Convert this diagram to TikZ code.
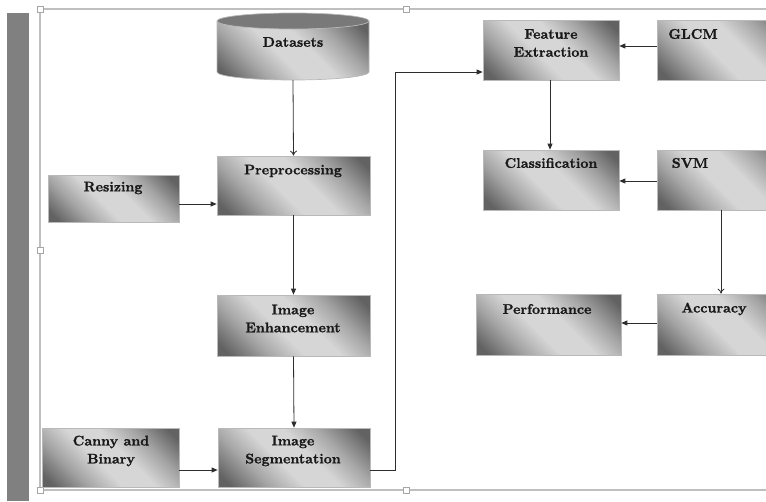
\documentclass[tikz,border=0pt]{standalone}
\usepackage{fontspec}
\newfontfamily\lblfont{lmroman10-bold.otf}[FakeBold=1.2]
\usetikzlibrary{arrows.meta,shadows}
\definecolor{dk}{RGB}{98,98,98}
\definecolor{md}{RGB}{165,165,165}
\definecolor{lt}{RGB}{214,214,214}
\definecolor{ln}{RGB}{45,45,45}
\pgfdeclareverticalshading{boxshade}{100bp}{color(0bp)=(dk); color(19bp)=(dk); color(32bp)=(md); color(44bp)=(lt); color(56bp)=(lt); color(68bp)=(md); color(81bp)=(dk); color(100bp)=(dk)}
\begin{document}
\begin{tikzpicture}[x=1pt,y=-1pt,
  box/.style={draw=gray!55, line width=0.7pt, shading=boxshade, shading angle=-45, inner sep=0pt,
    drop shadow={shadow xshift=1.2pt, shadow yshift=-1.2pt, opacity=0.25}},
  lbl/.style={font=\fontsize{14}{18}\lblfont, align=center, inner sep=0pt, text=black!90},
  arr/.style={draw=ln, line width=0.8pt, -{Triangle[length=6pt,width=5pt]}},
  oarr/.style={draw=ln, line width=0.8pt, -{To[length=5pt,width=7pt]}},
  frame/.style={draw=gray!50, line width=1.4pt},
  handle/.style={draw=gray!70, fill=white, line width=0.6pt, minimum size=6pt, inner sep=0pt}]
\useasboundingbox (0,0) rectangle (766,501);
\clip (0,0) rectangle (766,501);
\fill[gray] (7,13) rectangle (29,501);
% frame
\draw[frame] (766,9) -- (40,9) -- (40,490) -- (766,490);
\node[handle] (h1) at (40,9) {};
\node[handle] (h2) at (406,9) {};
\node[handle] (h3) at (40,490) {};
\node[handle] (h4) at (406,490) {};
\node[handle] (h5) at (40,250) {};
% datasets cylinder
\shade[shading=boxshade, shading angle=-45, draw=gray!55, line width=0.7pt]
  (217,21) -- (217,72) arc[start angle=180, end angle=360, x radius=76, y radius=-8] -- (369,21) -- cycle;
\fill[fill=gray!95!black, draw=gray!55, line width=0.7pt] (293,21) ellipse[x radius=76, y radius=8];
\node[inner sep=0pt, minimum width=152pt, minimum height=67pt] (ds) at (293,46.5) {};
\node[lbl] (dsT) at (293,42) {Datasets};
% boxes
\node[box, minimum width=153pt, minimum height=59pt] (pre) at (293.5,185.5) {};
\node[box, minimum width=131pt, minimum height=47pt] (res) at (113.5,198.5) {};
\node[box, minimum width=153pt, minimum height=61pt] (enh) at (293.5,325.5) {};
\node[box, minimum width=152pt, minimum height=59pt] (seg) at (294,457.5) {};
\node[box, minimum width=137pt, minimum height=59pt] (can) at (110.5,457.5) {};
\node[box, minimum width=136pt, minimum height=60pt] (fe) at (551,50) {};
\node[box, minimum width=143pt, minimum height=60pt] (glcm) at (728.5,50) {};
\node[box, minimum width=136pt, minimum height=60pt] (cls) at (551,180) {};
\node[box, minimum width=143pt, minimum height=60pt] (svm) at (728.5,180) {};
\node[box, minimum width=145pt, minimum height=61pt] (perf) at (548.5,324.5) {};
\node[box, minimum width=143pt, minimum height=61pt] (acc) at (728.5,324.5) {};
% labels
\node[lbl] (preT) at (293,171) {Preprocessing};
\node[lbl] (resT) at (113,188) {Resizing};
\node[lbl] (enhT) at (293,318.5) {Image\\Enhancement};
\node[lbl] (segT) at (293,451) {Image\\Segmentation};
\node[lbl] (canT) at (111,451) {Canny and\\Binary};
\node[lbl] (feT) at (551,43) {Feature\\Extraction};
\node[lbl] (glcmT) at (693,34) {GLCM};
\node[lbl] (clsT) at (551,163) {Classification};
\node[lbl] (svmT) at (690,163) {SVM};
\node[lbl] (perfT) at (547,309) {Performance};
\node[lbl] (accT) at (714,309) {Accuracy};
% helper coordinates
\coordinate (y204) at (0,204);
\coordinate (y470) at (0,470);
\coordinate (y72) at (0,72);
\coordinate (y46) at (0,46);
\coordinate (y181) at (0,181);
\coordinate (y323) at (0,323);
\coordinate (x721) at (721,0);
\coordinate (x550) at (550,0);
\coordinate (bend1) at (395,470);
\coordinate (bend2) at (395,72);
% connectors
\draw[oarr] (ds.south) -- (pre.north);
\draw[arr] (res.east |- y204) -- (pre.west |- y204);
\draw[arr] (pre.south) -- (enh.north);
\draw[arr] (enh.south) -- (seg.north);
\draw[arr] (can.east |- y470) -- (seg.west |- y470);
\draw[arr] (seg.east |- y470) -- (bend1) -- (bend2) -- (fe.west |- y72);
\draw[arr] (glcm.west |- y46) -- (fe.east |- y46);
\draw[arr] (fe.south -| x550) -- (cls.north -| x550);
\draw[arr] (svm.west |- y181) -- (cls.east |- y181);
\draw[oarr] (svm.south -| x721) -- (acc.north -| x721);
\draw[arr] (acc.west |- y323) -- (perf.east |- y323);
\end{tikzpicture}
\end{document}
